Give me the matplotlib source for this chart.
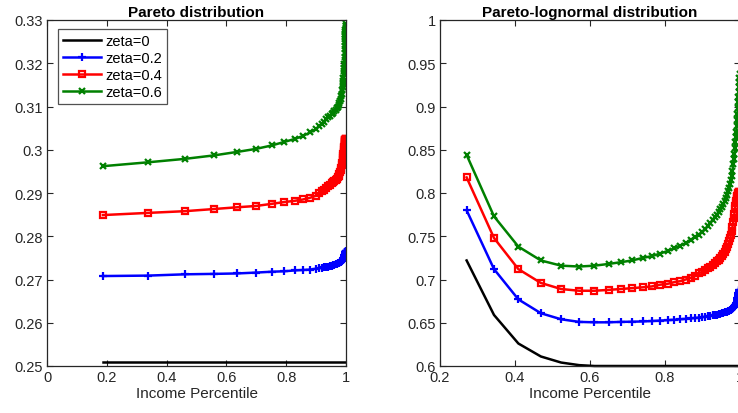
import matplotlib
matplotlib.use("Agg")
import matplotlib.pyplot as plt
from matplotlib.ticker import FixedLocator, FixedFormatter

plt.rcParams['font.family'] = ['Liberation Sans', 'DejaVu Sans']

# ---------------- data: left panel (Pareto distribution) ----------------
pareto_x = [0.187, 0.338, 0.462, 0.559, 0.636, 0.699, 0.752, 0.793, 0.829, 0.856, 0.880,
            0.900, 0.910, 0.919, 0.927, 0.934, 0.941, 0.947, 0.952, 0.957, 0.961,
            0.965, 0.969, 0.972, 0.975, 0.977, 0.980, 0.982, 0.984, 0.9855, 0.987,
            0.9883, 0.9895, 0.9905, 0.9915, 0.9923, 0.9931, 0.9938, 0.9944, 0.995, 0.9955,
            0.996, 0.9964, 0.9968, 0.9971, 0.9974, 0.9977, 0.9979, 0.9981, 0.9983, 0.9985,
            0.9987, 0.9988, 0.999]
pareto_z0_level = 0.2509
pareto_z2 = [0.2708, 0.2709, 0.2712, 0.2713, 0.2714, 0.2716, 0.2718, 0.2719, 0.2721, 0.2722, 0.2723,
             0.2725, 0.2726, 0.2727, 0.2728, 0.2729, 0.2730, 0.2731, 0.2732, 0.2733, 0.2734,
             0.2735, 0.2736, 0.2737, 0.2738, 0.2739, 0.2740, 0.2741, 0.2742, 0.2743, 0.2744,
             0.2745, 0.2747, 0.2748, 0.2750, 0.2751, 0.2753, 0.2754, 0.2756, 0.2757, 0.2758,
             0.2759, 0.2760, 0.2761, 0.2762, 0.2762, 0.2763, 0.2763, 0.2764, 0.2764, 0.2764,
             0.2765, 0.2765, 0.2765]
pareto_z4 = [0.2849, 0.2854, 0.2858, 0.2863, 0.2867, 0.2870, 0.2875, 0.2879, 0.2882, 0.2885, 0.2889,
             0.2894, 0.2899, 0.2904, 0.2908, 0.2912, 0.2916, 0.2919, 0.2922, 0.2925, 0.2928,
             0.2930, 0.2933, 0.2936, 0.2940, 0.2943, 0.2948, 0.2953, 0.2958, 0.2964, 0.2970,
             0.2976, 0.2981, 0.2986, 0.2991, 0.2995, 0.2999, 0.3003, 0.3006, 0.3009, 0.3012,
             0.3014, 0.3016, 0.3018, 0.3019, 0.3020, 0.3021, 0.3022, 0.3023, 0.3023, 0.3024,
             0.3024, 0.3025, 0.3025]
pareto_z6 = [0.2962, 0.2971, 0.2979, 0.2987, 0.2995, 0.3002, 0.3010, 0.3018, 0.3025, 0.3032, 0.3040,
             0.3048, 0.3054, 0.3060, 0.3065, 0.3070, 0.3075, 0.3079, 0.3083, 0.3086, 0.3089,
             0.3092, 0.3096, 0.3100, 0.3104, 0.3108, 0.3113, 0.3118, 0.3124, 0.3130, 0.3137,
             0.3144, 0.3151, 0.3158, 0.3166, 0.3174, 0.3182, 0.3190, 0.3198, 0.3207, 0.3215,
             0.3224, 0.3232, 0.3241, 0.3248, 0.3255, 0.3262, 0.3267, 0.3272, 0.3277, 0.3281,
             0.3285, 0.3287, 0.3290]

# ---------------- data: right panel (Pareto-lognormal distribution) ----------------
pln_x = [0.271, 0.344, 0.409, 0.469, 0.523, 0.571, 0.612, 0.650, 0.682, 0.712,
         0.741, 0.765, 0.787, 0.807, 0.825, 0.840, 0.855, 0.869, 0.880,
         0.890, 0.899, 0.907, 0.914, 0.921, 0.927, 0.933, 0.938, 0.943, 0.948,
         0.952, 0.956, 0.960, 0.963, 0.966, 0.969, 0.972, 0.974, 0.976, 0.978,
         0.980, 0.982, 0.9835, 0.985, 0.9865, 0.988, 0.989, 0.990, 0.991, 0.992,
         0.993, 0.994, 0.995, 0.9958, 0.9965, 0.9972, 0.9978, 0.9984, 0.999]
pln_z0 = [0.722, 0.659, 0.626, 0.611, 0.604, 0.601, 0.600, 0.600, 0.600, 0.600,
          0.600, 0.600, 0.600, 0.600, 0.600, 0.600, 0.600, 0.600, 0.600,
          0.600, 0.600, 0.600, 0.600, 0.600, 0.600, 0.600, 0.600, 0.600, 0.600,
          0.600, 0.600, 0.600, 0.600, 0.600, 0.600, 0.600, 0.600, 0.600, 0.600,
          0.600, 0.600, 0.600, 0.600, 0.600, 0.600, 0.600, 0.600, 0.600, 0.600,
          0.600, 0.600, 0.600, 0.600, 0.600, 0.600, 0.600, 0.600, 0.600]
pln_z2 = [0.780, 0.712, 0.677, 0.661, 0.654, 0.651, 0.6505, 0.6505, 0.651, 0.6512,
          0.6515, 0.652, 0.6525, 0.653, 0.6535, 0.654, 0.6545, 0.655, 0.6555,
          0.656, 0.6565, 0.657, 0.6575, 0.658, 0.6585, 0.659, 0.6595, 0.660, 0.6605,
          0.661, 0.6615, 0.662, 0.6625, 0.663, 0.6635, 0.664, 0.6645, 0.665, 0.6655,
          0.666, 0.667, 0.668, 0.669, 0.670, 0.671, 0.672, 0.673, 0.675, 0.677,
          0.679, 0.681, 0.683, 0.684, 0.685, 0.686, 0.687, 0.688, 0.688]
pln_z4 = [0.818, 0.748, 0.712, 0.696, 0.689, 0.687, 0.687, 0.688, 0.689, 0.690,
          0.691, 0.692, 0.694, 0.695, 0.697, 0.698, 0.700, 0.702, 0.704,
          0.707, 0.709, 0.711, 0.713, 0.715, 0.717, 0.719, 0.721, 0.723, 0.725,
          0.727, 0.729, 0.732, 0.735, 0.738, 0.741, 0.745, 0.748, 0.752, 0.756,
          0.761, 0.766, 0.771, 0.776, 0.781, 0.785, 0.788, 0.791, 0.793, 0.795,
          0.797, 0.798, 0.799, 0.800, 0.800, 0.801, 0.801, 0.801, 0.801]
pln_z6 = [0.844, 0.773, 0.738, 0.722, 0.716, 0.715, 0.716, 0.718, 0.720, 0.722,
          0.725, 0.727, 0.730, 0.733, 0.736, 0.739, 0.742, 0.746, 0.749,
          0.752, 0.755, 0.758, 0.762, 0.765, 0.769, 0.772, 0.775, 0.778, 0.781,
          0.784, 0.787, 0.791, 0.794, 0.798, 0.802, 0.806, 0.810, 0.815, 0.820,
          0.826, 0.833, 0.839, 0.845, 0.852, 0.859, 0.865, 0.871, 0.877, 0.884,
          0.891, 0.898, 0.905, 0.911, 0.917, 0.923, 0.928, 0.933, 0.937]

labels = ['zeta=0', 'zeta=0.2', 'zeta=0.4', 'zeta=0.6']

left_xticks = [0, 0.2, 0.4, 0.6, 0.8, 1]
left_xticklabels = ['0', '0.2', '0.4', '0.6', '0.8', '1']
left_yticks = [0.25, 0.26, 0.27, 0.28, 0.29, 0.30, 0.31, 0.32, 0.33]
left_yticklabels = ['0.25', '0.26', '0.27', '0.28', '0.29', '0.3', '0.31', '0.32', '0.33']
right_xticks = [0.2, 0.4, 0.6, 0.8, 1]
right_xticklabels = ['0.2', '0.4', '0.6', '0.8', '1']
right_yticks = [0.6, 0.65, 0.7, 0.75, 0.8, 0.85, 0.9, 0.95, 1]
right_yticklabels = ['0.6', '0.65', '0.7', '0.75', '0.8', '0.85', '0.9', '0.95', '1']

# ---------------- styling ----------------
GRAY = (0.15, 0.15, 0.15)
BLUE = (0, 0, 1)
RED = (1, 0, 0)
GREEN = (0, 0.5, 0)
LW = 1.8

fig = plt.figure(figsize=(7.38, 4.14), dpi=100)
ax1 = fig.add_axes([47 / 738, 1 - 367 / 414, 299 / 738, 346 / 414])
ax2 = fig.add_axes([440 / 738, 1 - 367 / 414, 300 / 738, 346 / 414])


def style(ax, xt, xtl, yt, ytl, xlim, ylim, title):
    ax.set_xlim(*xlim)
    ax.set_ylim(*ylim)
    ax.xaxis.set_major_locator(FixedLocator(xt))
    ax.xaxis.set_major_formatter(FixedFormatter(xtl))
    ax.yaxis.set_major_locator(FixedLocator(yt))
    ax.yaxis.set_major_formatter(FixedFormatter(ytl))
    ax.tick_params(direction='in', top=True, right=True, length=4, width=0.8,
                   colors=GRAY, labelsize=10.5, pad=3)
    for s in ax.spines.values():
        s.set_color(GRAY)
        s.set_linewidth(0.9)
    ax.set_xlabel('Income Percentile', fontsize=11, color=GRAY, labelpad=1)
    ax.set_title(title, fontsize=11, fontweight='bold', pad=3, color='black')


ax1.plot(pareto_x, [pareto_z0_level] * len(pareto_x), color='black', lw=LW, label=labels[0])
ax1.plot(pareto_x, pareto_z2, color=BLUE, lw=LW, marker='+', ms=6, mew=1.6, label=labels[1])
ax1.plot(pareto_x, pareto_z4, color=RED, lw=LW, marker='s', ms=5, mew=1.6, mfc='none', label=labels[2])
ax1.plot(pareto_x, pareto_z6, color=GREEN, lw=LW, marker='x', ms=5, mew=1.6, label=labels[3])
style(ax1, left_xticks, left_xticklabels, left_yticks, left_yticklabels,
      (0, 1), (0.25, 0.33), 'Pareto distribution')

leg = ax1.legend(loc='upper left', bbox_to_anchor=(0.037, 0.974), borderaxespad=0,
                 fontsize=10.5, frameon=True, fancybox=False, handlelength=2.6,
                 handletextpad=0.3, labelspacing=0.2, borderpad=0.35)
leg.get_frame().set_edgecolor(GRAY)
leg.get_frame().set_linewidth(0.9)

ax2.plot(pln_x, pln_z0, color='black', lw=LW, clip_on=False)
ax2.plot(pln_x, pln_z2, color=BLUE, lw=LW, marker='+', ms=6, mew=1.6)
ax2.plot(pln_x, pln_z4, color=RED, lw=LW, marker='s', ms=5, mew=1.6, mfc='none')
ax2.plot(pln_x, pln_z6, color=GREEN, lw=LW, marker='x', ms=5, mew=1.6)
style(ax2, right_xticks, right_xticklabels, right_yticks, right_yticklabels,
      (0.2, 1), (0.6, 1), 'Pareto-lognormal distribution')

fig.savefig('out.png', dpi=100)
